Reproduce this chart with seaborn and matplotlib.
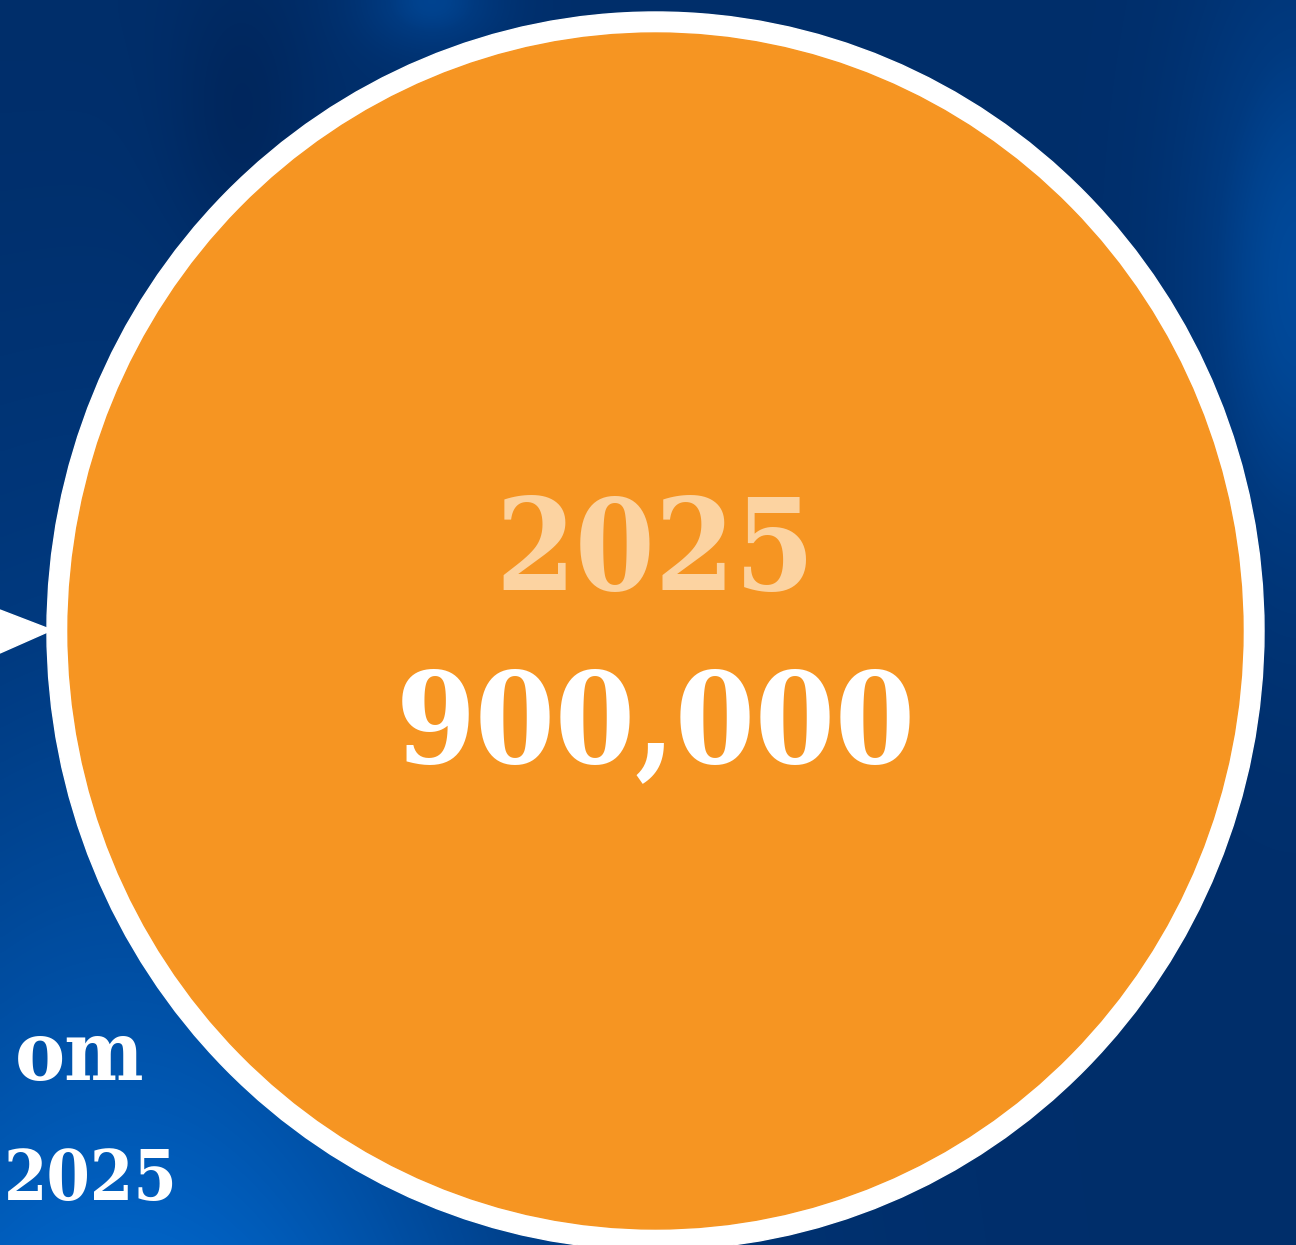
import numpy as np
import matplotlib
matplotlib.use('Agg')
import matplotlib.pyplot as plt
import seaborn as sns
from matplotlib.colors import LinearSegmentedColormap
from matplotlib.patches import Ellipse, Polygon

# 数据
year_label = ['2025']
value_label = [900000]
side_lines = ['om', '2025']

sns.set_theme(style='white')
plt.rcParams['font.family'] = ['DejaVu Serif', 'DejaVu Sans']

W, H = 1296, 1245
fig = plt.figure(figsize=(W / 100, H / 100), dpi=100)
ax = fig.add_axes([0, 0, 1, 1])
ax.set_xlim(0, W)
ax.set_ylim(H, 0)
ax.axis('off')

# 背景 蓝色渐变
yy, xx = np.mgrid[0:H:4, 0:W:4]
field = 0.25 + 0.5 * (yy / H) ** 1.5 * np.exp(-((xx - 120) / 450) ** 2)
field += 0.3 * np.exp(-((xx - 1296) / 110) ** 2) * np.exp(-((yy - 280) / 320) ** 2)
field += 0.25 * np.exp(-((xx - 430) / 70) ** 2) * np.exp(-((yy - 0) / 50) ** 2)
field -= 0.12 * np.exp(-((xx - 240) / 70) ** 2) * np.exp(-((yy - 120) / 150) ** 2)
blue = LinearSegmentedColormap.from_list('bg', ['#002458', '#003a80', '#0062c4'])
ax.imshow(field, cmap=blue, vmin=0.1, vmax=0.75, extent=[0, W, H, 0],
          aspect='auto', interpolation='bicubic', zorder=0)

# 圆
cx, cy = 655.5, 631
ax.add_patch(Ellipse((cx, cy), 1217, 1238, color='white', zorder=2))
ax.add_patch(Ellipse((cx, cy), 1175, 1196, color='#f69522', zorder=3))

# 箭头
ax.add_patch(Polygon([[0, 610], [52, 630], [0, 653]], closed=True,
                     color='white', zorder=1))

ax.text(cx, 590, year_label[0], ha='center', va='baseline', fontsize=92,
        fontweight='bold', fontstretch='condensed', color='#fcd3a1', zorder=4)
ax.text(cx, 762, f'{value_label[0]:,}', ha='center', va='baseline', fontsize=92,
        fontweight='bold', fontstretch='condensed', color='white', zorder=4)

ax.text(145, 1080, side_lines[0], ha='right', va='baseline', fontsize=60,
        fontweight='bold', fontstretch='condensed', color='white', zorder=4)
ax.text(178, 1200, side_lines[1], ha='right', va='baseline', fontsize=50,
        fontweight='bold', fontstretch='condensed', color='white', zorder=4)

plt.savefig('out.png', dpi=100)
